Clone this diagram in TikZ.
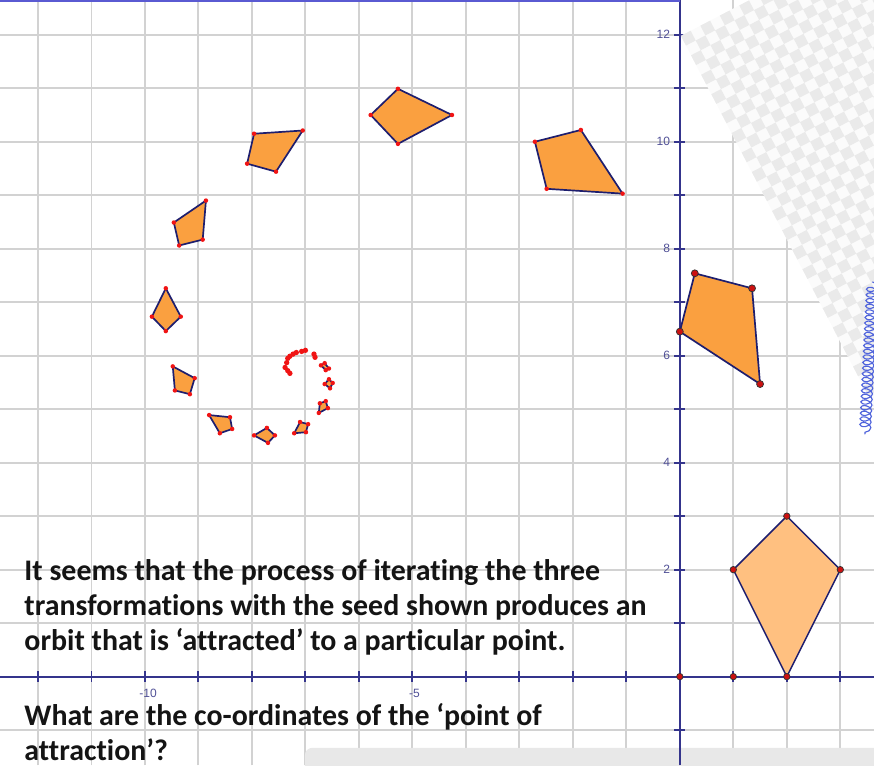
\documentclass[tikz,border=0pt]{standalone}
\usepackage{fontspec}
\setmainfont{Carlito}[Ligatures={NoCommon,NoContextual}]
\newfontfamily\tickfont{Liberation Sans}
\usetikzlibrary{decorations.pathmorphing}
\definecolor{gridgray}{RGB}{210,210,210}
\definecolor{axisblue}{RGB}{52,52,140}
\definecolor{topblue}{RGB}{90,90,210}
\definecolor{edgenavy}{RGB}{30,30,110}
\definecolor{kiteorange}{RGB}{250,160,64}
\definecolor{seedorange}{RGB}{255,192,128}
\definecolor{vtxred}{RGB}{240,20,20}
\definecolor{checkgray}{RGB}{234,234,234}
\definecolor{checkwhite}{RGB}{251,251,251}
\definecolor{scallopblue}{RGB}{80,100,220}
\definecolor{bargray}{RGB}{232,232,232}
\definecolor{ticklab}{RGB}{80,80,150}
\definecolor{textblack}{RGB}{20,20,20}

\tikzset{
    orbit/.style={fill=kiteorange, draw=edgenavy, line width=0.9pt, line join=round},
    seed/.style={fill=seedorange, draw=edgenavy, line width=0.8pt, line join=round},
    vtx/.style={fill=vtxred},
    bigvtx/.style={fill=vtxred!85!black, draw=black!80, line width=0.4pt},
    ticklabel/.style={font=\tickfont\fontsize{6.4}{7.5}\selectfont, text=ticklab, inner sep=1pt},
    question/.style={font=\bfseries\fontsize{15.9}{18.7}\selectfont, text=textblack,
                     align=left, anchor=north west, inner sep=0pt},
}

\begin{document}
\begin{tikzpicture}[font=\small]

    \def\xL{-12.71}
    \def\xR{3.63}
    \def\yB{-1.66}
    \def\yT{12.65}
    \def\sq{0.205}

    \useasboundingbox (\xL,\yB) rectangle (\xR,\yT);

    \begin{scope}
        \clip (\xL,\yB) rectangle (\xR,\yT);

        % ==========================================================
        % cuadricula, barra gris y ejes
        % ==========================================================
        \draw[gridgray, line width=1pt] (\xL,\yB) grid (\xR,\yT);
        \fill[bargray, rounded corners=4pt] (-7.01,-1.33) rectangle (\xR+0.3,\yB-0.3);

        \draw[axisblue, line width=1pt] (\xL,0) -- (\xR,0);
        \draw[axisblue, line width=1pt] (0,\yB) -- (0,\yT);
        \foreach \x in {-12,...,3}
            \draw[axisblue, line width=1pt] (\x,-0.1) -- (\x,0.1);
        \foreach \y in {-1,...,12}
            \draw[axisblue, line width=1pt] (-0.1,\y) -- (0.1,\y);
        \draw[topblue, line width=2pt] (\xL,\yT) -- (0,\yT);

        % ==========================================================
        % imagen a cuadros girada, arriba a la derecha
        % ==========================================================
        \begin{scope}[shift={(0.02,11.98)}, rotate=27.5]
            \fill[checkwhite] (0,-40*\sq) rectangle (22*\sq,0);
            \foreach \i in {0,...,21} {
                \pgfmathtruncatemacro\first{mod(\i,2)}
                \pgfmathtruncatemacro\second{\first+2}
                \foreach \j in {\first,\second,...,39}
                    \fill[checkgray] (\i*\sq,-\j*\sq-\sq) rectangle (\i*\sq+\sq,-\j*\sq);
            }
        \end{scope}
        \draw[scallopblue, line width=0.6pt, decorate,
              decoration={coil, aspect=0.6, segment length=3pt, amplitude=3pt}]
              (3.60,7.38) -- (3.46,4.53);
    \end{scope}

    % ==========================================================
    % semilla y su primera imagen
    % ==========================================================
    \filldraw[seed] (2,0) -- (1,2) -- (2,3) -- (3,2) -- cycle;
    \foreach \px/\py in {0/0, 1/0, 2/0, 1/2, 2/3, 3/2}
        \filldraw[bigvtx] (\px,\py) circle (0.06);

    \filldraw[orbit] (0,6.45) -- (0.28,7.54) -- (1.35,7.26) -- (1.50,5.47) -- cycle;
    \foreach \px/\py in {0/6.45, 0.28/7.54, 1.35/7.26, 1.50/5.47}
        \filldraw[bigvtx] (\px,\py) circle (0.065);

    % ==========================================================
    % la orbita en espiral
    % ==========================================================
    \foreach \ax/\ay/\bx/\by/\cx/\cy/\dx/\dy in {
        -2.71/10.00/-1.85/10.22/-1.07/9.03/-2.49/9.12,
        -5.78/10.50/-5.27/10.99/-4.26/10.50/-5.27/9.96,
        -8.09/9.59/-7.96/10.15/-7.05/10.21/-7.55/9.44,
        -9.46/8.49/-8.86/8.90/-8.92/8.17/-9.36/8.06,
        -9.87/6.73/-9.61/7.26/-9.33/6.73/-9.61/6.46,
        -9.48/5.80/-9.07/5.58/-9.16/5.28/-9.44/5.35,
        -8.80/4.89/-8.41/4.85/-8.37/4.63/-8.60/4.55,
        -7.96/4.51/-7.72/4.65/-7.57/4.51/-7.70/4.37,
        -7.21/4.55/-7.10/4.76/-6.95/4.72/-6.99/4.57,
        -6.75/4.93/-6.73/5.11/-6.62/5.15/-6.58/5.02,
        -6.64/5.47/-6.56/5.56/-6.49/5.49/-6.54/5.39,
        -6.71/5.82/-6.64/5.86/-6.56/5.76/-6.62/5.73} {
        \filldraw[orbit] (\ax,\ay) -- (\bx,\by) -- (\cx,\cy) -- (\dx,\dy) -- cycle;
        \foreach \px/\py in {\ax/\ay, \bx/\by, \cx/\cy, \dx/\dy}
            \fill[vtx] (\px,\py) circle (0.042);
    }
    \foreach \px/\py in {-6.84/6.03, -6.82/5.97, -7.07/6.08, -7.00/6.10,
                         -7.23/6.03, -7.17/6.06, -7.33/5.95, -7.29/5.99,
                         -7.38/5.78, -7.35/5.87, -7.29/5.67, -7.33/5.72}
        \fill[vtx] (\px,\py) circle (0.05);

    % ==========================================================
    % rotulos de los ejes
    % ==========================================================
    \foreach \y in {2,4,...,12}
        \node[ticklabel, anchor=east] (ylab\y) at (-0.14,\y) {\y};
    \node[ticklabel] (xlabten) at (-9.94,-0.32) {-10};
    \node[ticklabel] (xlabfive) at (-4.96,-0.32) {-5};

    % ==========================================================
    % textos
    % ==========================================================
    \node[question] (claim) at (-12.26,2.2)
        {It seems that the process of iterating the three\\
         transformations with the seed shown produces an\\
         orbit that is ‘attracted’ to a particular point.};
    \node[question] (ask) at (-12.26,-0.49)
        {What are the co-ordinates of the ‘point of\\
         attraction’?};

\end{tikzpicture}
\end{document}
